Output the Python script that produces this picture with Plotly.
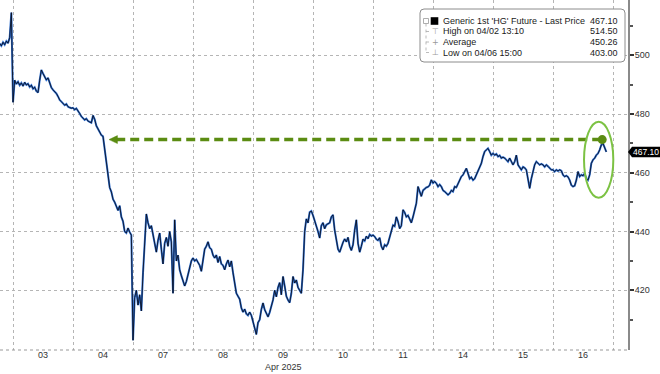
import plotly.graph_objects as go

# ---------------- data ----------------
days = ["02", "03", "04", "07", "08", "09", "10", "11", "14", "15", "16"]
label_days = days[1:]
sample_minutes = 40  # spacing of the intraday samples

# start hour of the first sample of each session
start_hours = [18.67, 0, 0, 0, 0, 0, 0, 0, 0, 0, 0]

apr02 = [504.0, 503.2, 504.4, 503.6, 504.8, 504.1, 506.0, 514.5]
apr03 = [484.0, 491.5, 490.2, 491.0, 489.8, 490.6, 489.5, 490.8, 489.9, 490.3,
         489.2, 489.8, 488.6, 489.1, 487.8, 487.3, 491.5, 495.0, 493.8, 492.5,
         491.6, 492.3, 490.5, 489.0, 488.2, 487.6, 487.0, 486.0, 484.8, 484.2,
         483.6, 483.0, 483.4, 482.5, 482.2, 482.0]
apr04 = [482.1, 481.5, 481.9, 480.8, 480.2, 479.2, 478.6, 478.0, 478.4, 477.6,
         477.3, 477.0, 479.5, 478.2, 476.0, 475.0, 473.8, 472.8, 472.4, 468.0,
         462.5, 459.0, 455.0, 453.5, 451.0, 450.0, 448.5, 447.2, 448.8, 445.0,
         443.5, 440.0, 439.5, 441.2, 439.8, 438.8]
apr07 = [403.0, 417.5, 420.0, 415.0, 418.5, 413.0, 426.0, 437.5, 446.0, 443.0,
         441.0, 442.0, 439.0, 435.5, 433.0, 437.0, 439.5, 434.0, 429.0, 436.0,
         438.0, 435.0, 440.0, 436.5, 419.0, 444.0, 430.0, 432.0, 427.0, 425.0,
         423.5, 421.5, 423.0, 425.5, 428.5, 430.0]
apr08 = [431.0, 430.0, 430.5, 429.5, 428.5, 426.5, 431.0, 434.0, 435.0, 436.5,
         434.5, 434.0, 432.0, 431.0, 432.0, 429.5, 431.5, 429.0, 428.5, 427.0,
         429.0, 430.3, 428.0, 430.0, 426.0, 421.6, 419.0, 418.0, 417.0, 414.0,
         412.6, 413.6, 412.0, 411.5, 412.6, 411.5]
apr09 = [409.0, 407.5, 405.0, 409.0, 410.0, 413.5, 415.7, 413.4, 412.0, 411.0,
         412.5, 414.5, 416.7, 420.0, 417.8, 421.0, 422.6, 418.5, 424.7, 421.5,
         418.0, 416.7, 415.8, 419.0, 424.7, 422.5, 423.5, 421.0, 420.0, 419.0,
         427.0, 440.0, 444.3, 443.0, 446.6, 447.0]
apr10 = [445.5, 443.8, 442.0, 440.0, 437.8, 442.0, 443.0, 441.0, 442.3, 442.8,
         443.0, 445.0, 445.7, 440.5, 437.4, 434.0, 433.0, 435.0, 436.3, 437.5,
         436.5, 438.0, 435.0, 433.6, 435.5, 440.5, 444.0, 436.0, 433.0, 435.0,
         437.4, 436.8, 438.4, 437.6, 439.0, 438.5]
apr11 = [438.8, 438.3, 437.4, 437.0, 437.9, 435.0, 433.8, 435.5, 435.0, 436.0,
         438.3, 440.5, 442.2, 441.8, 445.0, 443.4, 441.0, 442.0, 447.4, 446.5,
         445.0, 445.5, 444.0, 443.0, 445.0, 447.3, 449.6, 455.3, 453.5, 452.0,
         454.0, 454.6, 455.0, 455.2, 455.8, 457.6]
apr14 = [456.5, 457.0, 456.4, 455.3, 456.0, 455.3, 454.0, 453.6, 453.0, 452.5,
         453.0, 454.0, 453.6, 455.3, 455.0, 456.4, 457.5, 458.7, 459.3, 460.4,
         461.5, 459.8, 458.0, 458.5, 457.5, 458.0, 459.3, 460.4, 462.0, 463.2,
         465.5, 467.2, 467.8, 468.3, 467.2, 466.0]
apr15 = [466.6, 466.0, 466.4, 465.5, 465.9, 465.0, 465.3, 465.0, 464.4, 463.8,
         465.0, 463.8, 462.7, 463.8, 466.0, 462.7, 461.6, 461.0, 462.0, 461.7,
         461.0, 457.5, 454.7, 458.0, 461.0, 462.7, 463.8, 463.2, 462.7, 463.0,
         462.7, 462.0, 462.7, 462.2, 461.5, 461.0]
apr16 = [461.0, 460.4, 461.0, 460.6, 461.0, 460.7, 459.3, 458.7, 459.0, 458.6,
         457.5, 455.8, 455.3, 455.6, 457.5, 460.4, 458.7, 459.3, 459.0, 459.8,
         458.0, 457.5, 459.3, 463.2, 464.4, 465.0, 466.0, 466.6, 467.8, 469.5,
         470.0, 468.3, 467.1]

sessions = [apr02, apr03, apr04, apr07, apr08, apr09, apr10, apr11, apr14, apr15, apr16]

y_ticks = [420, 440, 460, 480, 500]
y_minor = [410, 430, 450, 470, 490, 510]

series_name = "Generic 1st 'HG' Future - Last Price"
last_price = 467.10
high_label, high_value = "High on 04/02 13:10", 514.50
avg_label, avg_value = "Average", 450.26
low_label, low_value = "Low on 04/06 15:00", 403.00
level_line = 471.3      # dashed reference level
axis_title = "Apr 2025"

# ---------------- build x from session index + time of day ----------------
xs, ys = [], []
for idx, (vals, h0) in enumerate(zip(sessions, start_hours)):
    for i, v in enumerate(vals):
        xs.append(idx + (h0 + i * sample_minutes / 60.0) / 24.0)
        ys.append(v)

W, H = 660, 374
ML, MR, MT, MB = 0, 32, 0, 24
PW, PH = W - ML - MR, H - MT - MB
Y0, Y1 = 399.7, 518.8


def px(x):
    return (x - ML) / PW


def py(y):
    return 1 - (y - MT) / PH


fig = go.Figure()
fig.add_trace(go.Scatter(x=xs, y=ys, mode="lines",
                         line=dict(color="#2f6fd0", width=2.0),
                         hoverinfo="skip", showlegend=False))
fig.add_trace(go.Scatter(x=xs, y=ys, mode="lines",
                         line=dict(color="rgba(8,8,16,0.8)", width=1.0),
                         hoverinfo="skip", showlegend=False))

FONT = "Liberation Sans"
shapes = []
annotations = []

# bottom axis dotted line
shapes.append(dict(type="line", xref="paper", yref="paper", x0=0, x1=1, y0=0, y1=0,
                   line=dict(color="#9a9a9a", width=1.2, dash="dot")))

# dashed green level line with arrowhead and end dot
x_start, x_end = 2.6, 10.82
shapes.append(dict(type="line", xref="x", yref="y", x0=x_start + 0.12, x1=x_end,
                   y0=level_line, y1=level_line,
                   line=dict(color="#5b8c12", width=3.5, dash="9px,5px")))
shapes.append(dict(type="path", xref="x", yref="y",
                   path=f"M {x_start} {level_line} L {x_start + 0.14} {level_line + 1.35} "
                        f"L {x_start + 0.14} {level_line - 1.35} Z",
                   fillcolor="#5b8c12", line=dict(color="#5b8c12", width=0.5)))
shapes.append(dict(type="circle", xref="x", yref="y", xsizemode="pixel", ysizemode="pixel",
                   xanchor=x_end, yanchor=level_line, x0=-4.5, x1=4.5, y0=-4.5, y1=4.5,
                   fillcolor="#5b8c12", line=dict(color="#5b8c12", width=0)))
# green ellipse
shapes.append(dict(type="circle", xref="x", yref="y", x0=10.517, x1=11.005,
                   y0=451.5, y1=477.4, line=dict(color="#7cc243", width=2)))

# last price tag
ly = MT + (1 - (last_price - Y0) / (Y1 - Y0)) * PH
shapes.append(dict(type="path", xref="paper", yref="paper",
                   path=f"M {px(628)} {py(ly)} L {px(632)} {py(ly - 5.2)} L {px(660)} {py(ly - 5.2)} "
                        f"L {px(660)} {py(ly + 5.2)} L {px(632)} {py(ly + 5.2)} Z",
                   fillcolor="#000000", line=dict(width=0)))
annotations.append(dict(xref="paper", yref="y", x=px(645.5), y=last_price, text=f"{last_price:.2f}",
                        showarrow=False, xanchor="center", yanchor="middle",
                        font=dict(family=FONT, size=8.5, color="#ffffff")))

# legend box
bx0, by0, bx1, by1, r = 420, 9, 625, 62, 4
shapes.append(dict(type="path", xref="paper", yref="paper",
                   path=(f"M {px(bx0 + r)} {py(by0)} L {px(bx1 - r)} {py(by0)} "
                         f"Q {px(bx1)} {py(by0)} {px(bx1)} {py(by0 + r)} "
                         f"L {px(bx1)} {py(by1 - r)} Q {px(bx1)} {py(by1)} {px(bx1 - r)} {py(by1)} "
                         f"L {px(bx0 + r)} {py(by1)} Q {px(bx0)} {py(by1)} {px(bx0)} {py(by1 - r)} "
                         f"L {px(bx0)} {py(by0 + r)} Q {px(bx0)} {py(by0)} {px(bx0 + r)} {py(by0)} Z"),
                   fillcolor="#ffffff", line=dict(color="#8c8c8c", width=1)))
rows = [21, 31.5, 42, 52.5]
shapes.append(dict(type="rect", xref="paper", yref="paper", x0=px(423.5), x1=px(428.5),
                   y0=py(rows[0] - 2.5), y1=py(rows[0] + 2.5), line=dict(color="#999", width=0.8)))
shapes.append(dict(type="line", xref="paper", yref="paper", x0=px(426), x1=px(426),
                   y0=py(rows[0] + 2.5), y1=py(rows[3]), line=dict(color="#aaa", width=0.8, dash="dot")))
for ry in rows[1:]:
    shapes.append(dict(type="line", xref="paper", yref="paper", x0=px(426), x1=px(431),
                       y0=py(ry), y1=py(ry), line=dict(color="#aaa", width=0.8, dash="dot")))
shapes.append(dict(type="rect", xref="paper", yref="paper", x0=px(430.7), x1=px(438.3),
                   y0=py(rows[0] + 3.8), y1=py(rows[0] - 3.8), fillcolor="#000", line=dict(width=0)))
icons = ["\u22a4", "+", "\u22a5"]
for ry, ic in zip(rows[1:], icons):
    annotations.append(dict(xref="paper", yref="paper", x=px(435), y=py(ry), text=ic,
                            showarrow=False, xanchor="center", yanchor="middle",
                            font=dict(family="DejaVu Sans", size=8, color="#999")))
labels = [(series_name, last_price), (high_label, high_value),
          (avg_label, avg_value), (low_label, low_value)]
for ry, (lab, val) in zip(rows, labels):
    annotations.append(dict(xref="paper", yref="paper", x=px(441), y=py(ry), text=lab,
                            showarrow=False, xanchor="left", yanchor="middle",
                            font=dict(family=FONT, size=9, color="#1a1a1a")))
    annotations.append(dict(xref="paper", yref="paper", x=px(619.5), y=py(ry), text=f"{val:.2f}",
                            showarrow=False, xanchor="right", yanchor="middle",
                            font=dict(family=FONT, size=9, color="#1a1a1a")))

# axis title under "09"
annotations.append(dict(xref="x", yref="paper", x=label_days.index("09") + 1.5, y=py(367),
                        text=axis_title, showarrow=False, xanchor="center", yanchor="middle",
                        font=dict(family=FONT, size=9, color="#333")))

fig.update_layout(
    width=W, height=H,
    margin=dict(l=ML, r=MR, t=MT, b=MB),
    paper_bgcolor="#ffffff", plot_bgcolor="#ffffff",
    showlegend=False,
    shapes=shapes, annotations=annotations,
    font=dict(family=FONT, size=9, color="#333"),
)
fig.update_xaxes(
    range=[0.783, 11.25],
    tickmode="array",
    tickvals=[i + 1.5 for i in range(len(label_days))],
    ticktext=label_days,
    showgrid=False, zeroline=False, showline=False, ticks="",
    tickfont=dict(family=FONT, size=9, color="#333"),
    ticklabelstandoff=-2,
    minor=dict(tickmode="linear", tick0=0, dtick=1, showgrid=True,
               gridcolor="#b5b5b5", griddash="dot", gridwidth=1, ticks=""),
)
fig.update_yaxes(
    side="right",
    range=[Y0, Y1],
    tickmode="array", tickvals=y_ticks,
    ticks="outside", ticklen=4, tickwidth=1.5, tickcolor="#333",
    showgrid=True, gridcolor="#b5b5b5", griddash="dot", gridwidth=1,
    zeroline=False,
    showline=True, linecolor="#8a8a8a", linewidth=2,
    tickfont=dict(family=FONT, size=9, color="#333"),
    ticklabelstandoff=-1,
    minor=dict(tickmode="array", tickvals=y_minor, ticks="outside", ticklen=3,
               tickcolor="#555", showgrid=False),
)

fig.write_html("out.html", config={"displayModeBar": False},
               post_script="document.body.style.margin='0';document.body.style.overflow='hidden';")
